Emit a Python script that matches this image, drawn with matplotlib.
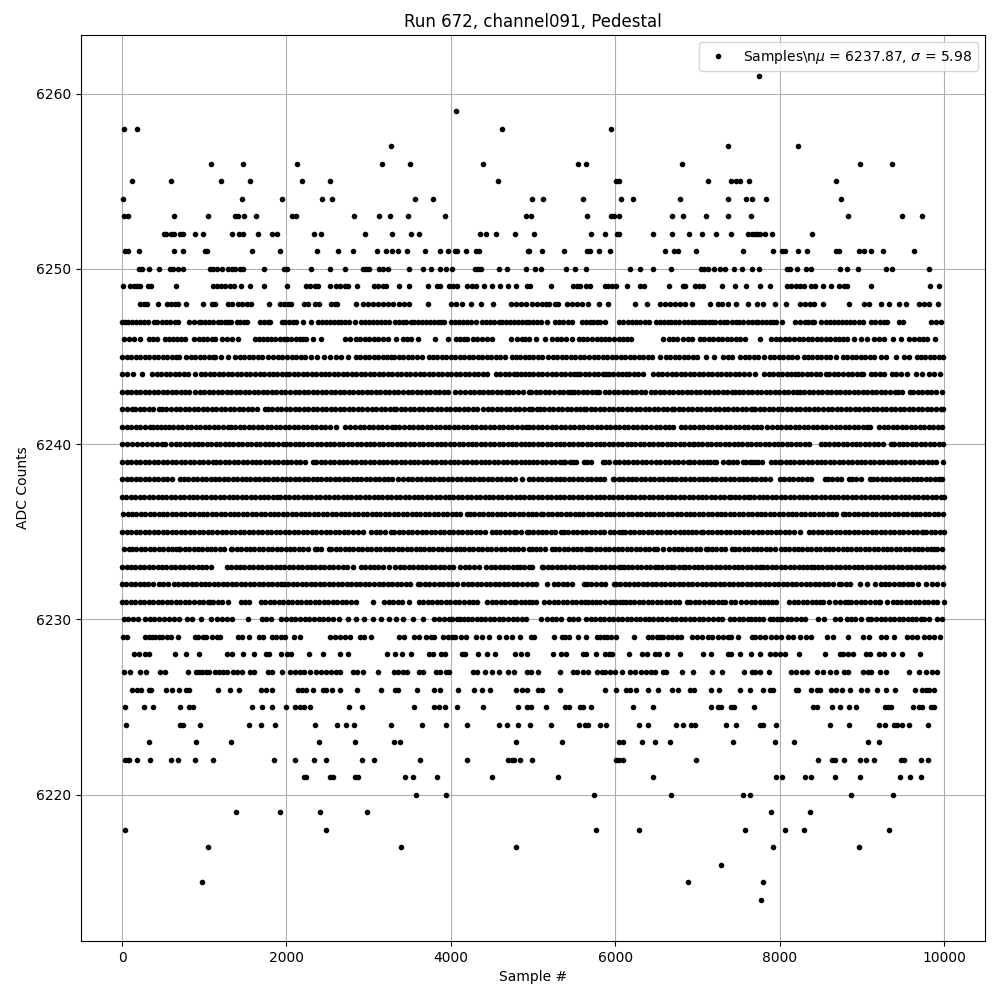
import matplotlib
matplotlib.use("Agg")
import matplotlib.pyplot as plt

# sample numbers, one list per ADC level
row_6214 = [7778]
row_6215 = [978, 6881, 7802]
row_6216 = [7281]
row_6217 = [1050, 3390, 4796, 7923, 8966]
row_6218 = [32, 2481, 5766, 6287, 7584, 8069, 8299, 9329]
row_6219 = [1390, 1923, 2408, 2977, 7899, 8372]
row_6220 = [3571, 3947, 5742, 6675, 7560, 7645, 8869, 9378]
row_6221 = [2214, 2242, 2525, 2566, 2828, 2869, 3438, 3535, 3826, 4505, 5305, 6457, 7960, 8033, 8311, 8376, 8675, 8978, 9463, 9584, 9717]
row_6222 = [40, 69, 89, 178, 335, 590, 675, 881, 1111, 1850, 2105, 2335, 2481, 2917, 3062, 3620, 4202, 4699, 4739, 4772, 4844,
            4990, 6008, 6041, 6093, 6978, 8469, 8639, 8675, 8784, 8978, 9055, 9148, 9475, 9515, 9717, 9802]
row_6223 = [323, 897, 1329, 2396, 2832, 3313, 3377, 4796, 5354, 6049, 6089, 6324, 6481, 6663, 7427, 7948, 8178, 9075, 9208]
row_6224 = [48, 707, 747, 953, 1547, 1693, 1862, 2347, 2614, 2727, 2824, 3268, 3644, 3947, 4202, 4589, 4686, 4820,
            4958, 5221, 5560, 5637, 5669, 5819, 5887, 6287, 6396, 6736, 6820, 6917, 6970, 7342, 7475, 7766, 7798, 7960,
            8618, 8845, 9208, 9281, 9394, 9434, 9491, 9576, 9802]
row_6225 = [32, 263, 372, 699, 820, 860, 1576, 1705, 1826, 2000, 2105, 2162, 2210, 2287, 2759, 2917, 3547, 3798, 3850, 3923,
            4080, 4396, 4812, 4929, 4970, 5160, 5386, 5435, 5568, 5609, 5705, 6215, 6457, 7160, 7253, 7285, 7414, 7447, 7693,
            8408, 8457, 8639, 8735, 8845, 8929, 9281, 9321, 9354, 9624, 9697, 9737, 9838, 9879]
row_6226 = [121, 182, 230, 323, 351, 529, 602, 687, 780, 816, 1172, 1317, 1426, 1693, 1757, 1818, 2141, 2190, 2242, 2323, 2444,
            2485, 2553, 2650, 2856, 3147, 3325, 3357, 3584, 3790, 3874, 4093, 4287, 4383, 4472, 4796, 4860, 4929,
            5063, 5112, 5330, 5875, 6004, 6130, 6182, 6251, 6396, 6518, 6687, 6760, 6905, 6958, 7160, 7257, 7523, 7645, 7802,
            7879, 7919, 8194, 8222, 8384, 8457, 8489, 8626, 8687, 8756, 8857, 8990, 9063, 9180, 9293, 9402, 9644, 9737, 9778, 9818, 9879]
row_6227 = [20, 93, 214, 287, 457, 517, 796, 897, 937, 978, 1018, 1059, 1131, 1184, 1232, 1281, 1345, 1394, 1454, 1555, 1608,
            1778, 1818, 1947, 2040, 2101, 2162, 2210, 2291, 2355, 2424, 2485, 2545, 2606, 2654, 2808, 2856, 2937, 3111, 3313,
            3353, 3414, 3466, 3608, 3656, 3818, 3866, 3939, 3979, 4270, 4323, 4420, 4505, 4590, 4699, 4772, 4929, 4970, 5063,
            5330, 5483, 5536, 5604, 5669, 5778, 5839, 5871, 5940, 6000, 6081, 6182, 6235, 6316, 6372, 6437, 6485, 6582, 6614,
            6808, 6950, 7176, 7305, 7572, 7665, 7697, 7758, 7871, 8142, 8194, 8275, 8336, 8457, 8525, 8618, 8687, 8780, 8836,
            9010, 9071, 9111, 9224, 9293, 9576, 9693, 9778, 9859, 9911]
row_6228 = [141, 202, 283, 323, 638, 772, 933, 1273, 1341, 1467, 1608, 1745, 1786, 1939, 2008, 2056, 2275, 2444, 2646, 2747, 3220,
            3317, 3402, 3511, 3737, 3777, 3878, 3923, 4141, 4173, 4335, 4444, 4541, 4783, 4856, 4929, 5245, 5346, 5402, 5604,
            5645, 5770, 5871, 5920, 5960, 6166, 6324, 6384, 6485, 6534, 6635, 6784, 7063, 7160, 7374, 7414, 7523, 7653, 7766,
            7887, 7948, 8008, 8061, 8230, 8554, 8735, 8768, 8828, 8893, 9051, 9095, 9212, 9265, 9378, 9487, 9705]
row_6229 = [8, 61, 283, 323, 364, 404, 444, 485, 545, 594, 675, 881, 929, 990, 1022, 1099, 1151, 1192, 1414, 1454, 1547, 1660,
            1717, 1818, 1871, 1939, 1980, 2097, 2162, 2533, 2586, 2646, 2707, 2768, 2889, 2949, 3026, 3373, 3434, 3555, 3616,
            3697, 3757, 3798, 3899, 3960, 4020, 4052, 4121, 4181, 4303, 4383, 4464, 4585, 4666, 4747, 4836, 4970, 5011, 5253,
            5354, 5386, 5435, 5548, 5645, 5778, 5819, 5859, 5899, 5952, 6008, 6227, 6404, 6445, 6505, 6546, 6586, 6647, 6687,
            6748, 6800, 6930, 6990, 7051, 7132, 7180, 7245, 7313, 7374, 7414, 7499, 7665, 7705, 7758, 7818, 7899, 7960, 8020,
            8101, 8162, 8243, 8323, 8384, 8578, 8651, 8832, 9010, 9091, 9232, 9293, 9394, 9556, 9616, 9677, 9758, 9818, 9879, 9952]
row_6230 = [20, 75, 130, 190, 283, 335, 390, 450, 510, 565, 630, 687, 788, 852, 962, 1083, 1160, 1220, 1280, 1333, 1527, 1697, 1750,
            1810, 1939, 1990, 2050, 2105, 2165, 2220, 2280, 2335, 2395, 2450, 2510, 2570, 2640, 2747, 2840, 2949, 3050, 3151, 3252, 3333,
            3414, 3535, 3656, 3794, 3850, 3915, 3980, 4020, 4070, 4110, 4160, 4205, 4260, 4315, 4370, 4420, 4475, 4530, 4585, 4640,
            4700, 4755, 4810, 4865, 4909, 5099, 5172, 5230, 5285, 5340, 5435, 5490, 5545, 5645, 5700, 5755, 5810, 5865, 5920, 5975,
            6030, 6085, 6140, 6195, 6250, 6305, 6360, 6415, 6465, 6520, 6575, 6630, 6685, 6740, 6795, 6850, 6905, 6960, 7015, 7070,
            7128, 7190, 7245, 7300, 7395, 7450, 7500, 7560, 7615, 7650, 7697, 7747, 7800, 7880, 7920, 7970, 8000, 8032, 8090, 8140,
            8200, 8260, 8311, 8473, 8545, 8675, 8740, 8815, 8865, 8920, 8990, 9071, 9110, 9170, 9230, 9285, 9340, 9395, 9450, 9505,
            9560, 9610, 9665, 9720, 9760, 9818, 9911, 9978]
row_6231 = [0, 50, 105, 160, 215, 270, 325, 380, 435, 490, 545, 600, 655, 710, 765, 820, 875, 930, 985, 1040, 1071, 1111, 1165, 1220,
            1293, 1442, 1490, 1547, 1685, 1740, 1795, 1850, 1905, 1960, 2015, 2070, 2125, 2180, 2235, 2290, 2345, 2400, 2455, 2510, 2565,
            2620, 2675, 2730, 2790, 2850, 3050, 3190, 3245, 3300, 3355, 3410, 3496, 3610, 3665, 3720, 3775, 3830, 3885, 3940, 3995,
            4050, 4105, 4160, 4215, 4270, 4324, 4444, 4497, 4550, 4605, 4660, 4715, 4770, 4788, 4848, 4900, 4949, 4990, 5039,
            5139, 5194, 5249, 5304, 5359, 5414, 5469, 5524, 5579, 5629, 5669, 5720, 5770, 5820, 5870, 5940, 5972, 6010, 6060, 6100,
            6134, 6174, 6230, 6285, 6340, 6395, 6450, 6505, 6560, 6615, 6670, 6725, 6780, 6873, 6915, 6970, 7025, 7080, 7135, 7190,
            7245, 7300, 7334, 7404, 7460, 7536, 7596, 7650, 7705, 7760, 7810, 7860, 7910, 7960, 8113, 8170, 8225, 8280, 8335, 8390,
            8445, 8495, 8525, 8606, 8675, 8730, 8800, 8830, 8870, 8929, 8990, 9045, 9100, 9155, 9210, 9225, 9305, 9374, 9425,
            9480, 9535, 9590, 9645, 9700, 9755, 9810, 9865, 9920, 9999]
row_6232 = [0, 50, 105, 160, 214, 265, 320, 375, 445, 500, 555, 630, 683, 738, 795, 850, 905, 960, 1010, 1062, 1115, 1170, 1225, 1280, 1335,
            1390, 1445, 1500, 1555, 1610, 1665, 1720, 1778, 1830, 1879, 1939, 1967, 2020, 2075, 2130, 2185, 2240, 2295, 2350, 2405,
            2460, 2515, 2570, 2625, 2680, 2735, 2790, 2845, 2900, 2955, 3010, 3065, 3120, 3175, 3230, 3285, 3340, 3395, 3450, 3505,
            3596, 3630, 3685, 3740, 3795, 3850, 3905, 3960, 4015, 4070, 4150, 4205, 4260, 4315, 4370, 4425, 4480, 4535, 4590, 4645,
            4700, 4755, 4810, 4865, 4929, 4982, 5040, 5172, 5253, 5308, 5363, 5418, 5473, 5617, 5657, 5701, 5770, 5821, 5880, 5980,
            6009, 6060, 6115, 6170, 6225, 6280, 6335, 6390, 6445, 6500, 6555, 6610, 6665, 6720, 6775, 6830, 6885, 6940, 6995, 7050,
            7105, 7160, 7215, 7270, 7325, 7380, 7435, 7490, 7545, 7600, 7655, 7710, 7765, 7820, 7875, 7930, 7985, 8040, 8095, 8150,
            8205, 8260, 8315, 8370, 8425, 8480, 8535, 8590, 8645, 8728, 8748, 8808, 8858, 8982, 9063, 9162, 9232, 9282, 9337, 9392,
            9447, 9502, 9557, 9612, 9685, 9778, 9859, 9914, 9992]
row_6233 = [0, 54, 108, 162, 216, 270, 324, 378, 432, 486, 540, 594, 648, 702, 756, 810, 864, 918, 972, 1026, 1082, 1273, 1327,
            1381, 1435, 1489, 1543, 1597, 1651, 1705, 1759, 1813, 1867, 1921, 1975, 2029, 2083, 2137, 2191, 2245, 2299, 2353, 2407,
            2461, 2515, 2569, 2623, 2682, 2735, 2808, 2903, 2957, 3011, 3065, 3119, 3173, 3252, 3325, 3379, 3433, 3487, 3541,
            3595, 3649, 3703, 3757, 3811, 3865, 3919, 3973, 4027, 4109, 4170, 4224, 4278, 4340, 4430, 4484, 4538, 4592, 4646, 4700,
            4755, 4809, 4840, 4894, 4949, 4985, 5104, 5124, 5178, 5232, 5286, 5340, 5394, 5448, 5502, 5556, 5610, 5664, 5718, 5772,
            5826, 5880, 5934, 5988, 6042, 6073, 6101, 6155, 6209, 6263, 6317, 6371, 6425, 6485, 6519, 6573, 6627, 6679, 6720, 6776,
            6820, 6849, 6899, 6953, 7007, 7061, 7115, 7169, 7223, 7277, 7331, 7385, 7439, 7493, 7547, 7601, 7655, 7709, 7763, 7798,
            7852, 7906, 7960, 8014, 8068, 8122, 8176, 8230, 8284, 8338, 8376, 8413, 8467, 8521, 8575, 8629, 8683, 8737, 8791, 8845,
            8899, 8953, 9007, 9061, 9115, 9169, 9223, 9277, 9331, 9385, 9439, 9493, 9547, 9601, 9655, 9709, 9763, 9817, 9871, 9925, 9992]
row_6234 = [28, 81, 121, 175, 229, 283, 337, 391, 445, 499, 553, 607, 661, 687, 707, 761, 815, 869, 923, 977, 1031, 1085, 1131, 1192, 1242,
            1321, 1341, 1395, 1449, 1503, 1557, 1611, 1665, 1719, 1773, 1827, 1881, 1935, 1989, 2043, 2097, 2151, 2205, 2259, 2343,
            2371, 2425, 2517, 2545, 2599, 2653, 2707, 2761, 2815, 2869, 2923, 2977, 3031, 3085, 3139, 3193, 3247, 3301, 3355, 3409,
            3463, 3517, 3571, 3625, 3679, 3733, 3787, 3841, 3895, 3949, 4003, 4057, 4111, 4165, 4219, 4273, 4327, 4381, 4435, 4489, 4545,
            4606, 4660, 4714, 4768, 4822, 4876, 4949, 4982, 5036, 5090, 5144, 5233, 5265, 5319, 5373, 5427, 5481, 5535, 5589, 5643, 5677,
            5710, 5764, 5818, 5872, 5926, 5980, 6034, 6088, 6142, 6196, 6250, 6304, 6358, 6412, 6466, 6509, 6586, 6655, 6709, 6763, 6817,
            6871, 6925, 6979, 7033, 7099, 7123, 7177, 7231, 7285, 7339, 7422, 7455, 7509, 7563, 7617, 7671, 7725, 7779, 7833, 7887, 7941,
            8020, 8061, 8115, 8169, 8223, 8277, 8331, 8385, 8439, 8493, 8547, 8601, 8655, 8709, 8768, 8820, 8874, 8928, 8982, 9036, 9090,
            9144, 9198, 9252, 9306, 9360, 9414, 9468, 9522, 9576, 9630, 9684, 9738, 9792, 9846, 9879, 9919, 9980]
row_6235 = [0, 55, 110, 165, 220, 275, 330, 385, 440, 495, 550, 605, 660, 715, 770, 825, 880, 935, 990, 1045, 1100, 1155, 1210, 1265,
            1320, 1375, 1430, 1485, 1540, 1595, 1650, 1705, 1760, 1815, 1870, 1925, 1980, 2035, 2090, 2145, 2200, 2255, 2310, 2365,
            2420, 2475, 2530, 2585, 2640, 2695, 2750, 2805, 2868, 2937, 3030, 3085, 3140, 3200, 3272, 3313, 3368, 3423, 3478, 3533,
            3588, 3643, 3698, 3753, 3808, 3863, 3918, 3973, 4028, 4083, 4138, 4193, 4248, 4303, 4358, 4413, 4505, 4545, 4600, 4655,
            4710, 4765, 4787, 4848, 4929, 4950, 5004, 5060, 5104, 5160, 5215, 5270, 5346, 5374, 5429, 5484, 5539, 5594, 5649, 5704,
            5759, 5814, 5869, 5940, 5980, 6040, 6081, 6122, 6177, 6232, 6287, 6342, 6397, 6452, 6507, 6562, 6617, 6672, 6727, 6782, 6837,
            6889, 6930, 6985, 7043, 7071, 7126, 7181, 7236, 7291, 7346, 7401, 7456, 7511, 7566, 7621, 7676, 7731, 7786, 7841, 7896,
            7951, 8006, 8061, 8116, 8171, 8243, 8352, 8407, 8462, 8517, 8572, 8627, 8682, 8737, 8792, 8847, 8902, 8957, 9012, 9067,
            9122, 9177, 9232, 9287, 9342, 9397, 9452, 9507, 9562, 9617, 9672, 9727, 9750, 9786, 9841, 9896, 9951, 9999]
row_6236 = [12, 66, 120, 174, 228, 282, 336, 390, 444, 498, 552, 606, 660, 714, 768, 822, 876, 930, 984, 1038, 1092, 1146, 1200, 1254,
            1308, 1362, 1416, 1470, 1524, 1578, 1632, 1686, 1740, 1794, 1848, 1902, 1956, 2010, 2064, 2118, 2172, 2226, 2280, 2334,
            2388, 2442, 2496, 2550, 2604, 2658, 2712, 2766, 2820, 2874, 2928, 2982, 3036, 3090, 3144, 3198, 3252, 3306, 3360, 3414,
            3468, 3522, 3576, 3630, 3684, 3738, 3792, 3846, 3900, 3954, 4008, 4062, 4116, 4202, 4232, 4286, 4340, 4394, 4448, 4502,
            4556, 4610, 4664, 4718, 4772, 4826, 4880, 4934, 4988, 5042, 5093, 5127, 5181, 5235, 5289, 5343, 5397, 5451, 5505, 5559,
            5613, 5667, 5721, 5775, 5829, 5883, 5937, 5991, 6045, 6099, 6153, 6207, 6261, 6315, 6369, 6423, 6477, 6531, 6585, 6639,
            6693, 6747, 6801, 6855, 6909, 6963, 7017, 7071, 7125, 7179, 7233, 7287, 7341, 7395, 7449, 7503, 7557, 7611, 7665, 7719,
            7773, 7827, 7881, 7935, 7989, 8043, 8097, 8151, 8205, 8259, 8313, 8367, 8421, 8475, 8529, 8583, 8637, 8691, 8768, 8796,
            8850, 8904, 8958, 9012, 9066, 9120, 9174, 9228, 9282, 9336, 9390, 9444, 9498, 9552, 9606, 9660, 9714, 9768, 9822, 9876, 9930, 9992]
row_6237 = [0, 53, 107, 161, 215, 269, 323, 377, 431, 485, 539, 593, 647, 701, 755, 809, 863, 917, 971, 1025, 1079, 1133, 1187, 1241,
            1295, 1349, 1403, 1457, 1511, 1565, 1619, 1673, 1727, 1781, 1835, 1885, 1927, 1980, 2034, 2088, 2142, 2196, 2250, 2304,
            2358, 2412, 2466, 2520, 2574, 2628, 2682, 2736, 2790, 2844, 2898, 2952, 3006, 3060, 3114, 3168, 3222, 3276, 3330, 3384,
            3438, 3492, 3546, 3600, 3654, 3708, 3762, 3816, 3870, 3924, 3978, 4032, 4086, 4140, 4194, 4248, 4302, 4356, 4410, 4464,
            4518, 4572, 4626, 4680, 4734, 4788, 4842, 4896, 4949, 5004, 5058, 5112, 5166, 5220, 5274, 5328, 5382, 5436, 5490, 5544,
            5598, 5652, 5706, 5760, 5814, 5868, 5922, 5976, 6030, 6084, 6138, 6192, 6246, 6300, 6354, 6408, 6462, 6516, 6570, 6624,
            6678, 6732, 6786, 6840, 6894, 6948, 7002, 7056, 7110, 7164, 7218, 7272, 7326, 7382, 7406, 7456, 7510, 7564, 7610, 7636,
            7690, 7744, 7798, 7852, 7906, 7960, 8014, 8068, 8122, 8176, 8230, 8284, 8338, 8392, 8446, 8500, 8554, 8608, 8662, 8716,
            8770, 8824, 8878, 8932, 8986, 9040, 9094, 9148, 9202, 9256, 9310, 9364, 9418, 9472, 9526, 9580, 9634, 9688, 9742, 9796, 9850, 9904, 9958, 9999]
row_6238 = [0, 55, 110, 165, 220, 275, 330, 385, 440, 495, 550, 606, 699, 752, 806, 860, 914, 968, 1022, 1076, 1130, 1184, 1238, 1292,
            1346, 1400, 1454, 1508, 1562, 1616, 1670, 1724, 1778, 1832, 1886, 1940, 1994, 2048, 2102, 2156, 2210, 2264, 2318, 2372,
            2426, 2480, 2534, 2588, 2642, 2696, 2750, 2804, 2858, 2912, 2966, 3020, 3074, 3128, 3182, 3236, 3290, 3353, 3423, 3477,
            3531, 3585, 3639, 3693, 3747, 3801, 3855, 3909, 3963, 4017, 4071, 4125, 4179, 4233, 4287, 4341, 4395, 4449, 4503, 4557,
            4614, 4668, 4722, 4776, 4868, 4950, 5004, 5058, 5112, 5166, 5220, 5274, 5328, 5382, 5436, 5490, 5544, 5598, 5652, 5706,
            5760, 5814, 5868, 5968, 5988, 6042, 6096, 6150, 6204, 6258, 6312, 6366, 6420, 6474, 6528, 6582, 6636, 6690, 6744, 6798,
            6852, 6906, 6960, 7014, 7068, 7122, 7176, 7230, 7284, 7338, 7392, 7446, 7500, 7554, 7608, 7662, 7716, 7770, 7824, 7880,
            8008, 8058, 8112, 8166, 8220, 8274, 8328, 8382, 8550, 8586, 8640, 8694, 8748, 8850, 8877, 8931, 8985, 9104, 9132, 9186,
            9240, 9294, 9348, 9402, 9456, 9510, 9564, 9618, 9672, 9726, 9780, 9834, 9888, 9942, 9980]
row_6239 = [0, 55, 110, 165, 220, 275, 330, 385, 440, 495, 550, 605, 660, 715, 770, 825, 880, 935, 990, 1045, 1103, 1143, 1197, 1251, 1305, 1359,
            1413, 1467, 1521, 1575, 1629, 1683, 1737, 1791, 1845, 1899, 1953, 2007, 2061, 2115, 2169, 2223, 2323, 2364, 2418, 2472,
            2526, 2580, 2634, 2688, 2742, 2796, 2850, 2904, 2958, 3012, 3066, 3120, 3174, 3228, 3282, 3336, 3390, 3444, 3498, 3552,
            3606, 3660, 3714, 3768, 3822, 3876, 3930, 3984, 4038, 4092, 4146, 4200, 4254, 4308, 4362, 4416, 4470, 4524, 4578, 4632,
            4686, 4740, 4794, 4848, 4902, 4949, 5000, 5054, 5108, 5160, 5215, 5270, 5325, 5362, 5386, 5455, 5483, 5525, 5617, 5660,
            5704, 5850, 5875, 5920, 6000, 6050, 6105, 6160, 6215, 6270, 6325, 6380, 6435, 6490, 6545, 6600, 6655, 6710, 6765,
            6820, 6889, 6910, 6960, 7014, 7068, 7111, 7152, 7196, 7225, 7310, 7370, 7390, 7430, 7480, 7558, 7590, 7640, 7665, 7700,
            7737, 7790, 7890, 7940, 7995, 8012, 8072, 8126, 8180, 8234, 8288, 8342, 8396, 8450, 8504, 8558, 8612,
            8666, 8720, 8774, 8828, 8882, 8936, 8990, 9044, 9098, 9152, 9206, 9260, 9314, 9368, 9422, 9476, 9530, 9584, 9638, 9692, 9746, 9800, 9854, 9908, 9992]
row_6240 = [0, 60, 121, 182, 242, 303, 364, 424, 485, 525, 593, 652, 707, 761, 815, 869, 923, 977, 1031, 1085, 1139, 1193, 1247, 1301,
            1355, 1409, 1463, 1517, 1571, 1625, 1679, 1733, 1787, 1841, 1895, 1960, 1990, 2044, 2098, 2152, 2206, 2260, 2314, 2368,
            2422, 2476, 2530, 2584, 2638, 2692, 2746, 2800, 2854, 2908, 2962, 3016, 3070, 3124, 3178, 3232, 3286, 3340, 3394, 3448,
            3502, 3556, 3610, 3664, 3718, 3772, 3826, 3880, 3934, 3988, 4042, 4096, 4150, 4204, 4258, 4312, 4366, 4420, 4474, 4528,
            4582, 4636, 4690, 4744, 4798, 4852, 4906, 4949, 5004, 5058, 5112, 5166, 5220, 5274, 5328, 5382, 5436, 5490, 5544, 5598,
            5652, 5706, 5760, 5814, 5868, 5922, 5976, 6030, 6084, 6138, 6192, 6246, 6300, 6354, 6408, 6462, 6516, 6570, 6624, 6678,
            6732, 6786, 6840, 6894, 6948, 6958, 7005, 7050, 7116, 7170, 7224, 7278, 7332, 7386, 7440, 7494, 7548, 7602, 7656, 7710,
            7764, 7818, 7872, 7926, 7980, 8034, 8088, 8142, 8196, 8250, 8304, 8358, 8500, 8550, 8600, 8660, 8714, 8768, 8822,
            8876, 8930, 8984, 9038, 9092, 9146, 9200, 9254, 9358, 9394, 9448, 9502, 9556, 9610, 9664, 9718, 9772, 9826, 9880, 9934, 9990]
row_6241 = [0, 55, 110, 165, 220, 275, 343, 376, 420, 470, 525, 566, 620, 675, 730, 785, 840, 895, 950, 1005, 1060, 1115, 1170, 1225, 1293,
            1321, 1375, 1430, 1485, 1540, 1595, 1650, 1705, 1760, 1815, 1870, 1925, 1980, 2032, 2087, 2142, 2197, 2252, 2307, 2362,
            2417, 2472, 2527, 2606, 2715, 2770, 2835, 2890, 2945, 3000, 3055, 3110, 3165, 3220, 3285, 3320, 3375, 3430, 3485,
            3540, 3595, 3650, 3705, 3760, 3815, 3870, 3925, 3980, 4035, 4090, 4145, 4200, 4255, 4310, 4365, 4420, 4475, 4530, 4585,
            4640, 4695, 4750, 4805, 4860, 4915, 4950, 5005, 5060, 5115, 5170, 5225, 5280, 5335, 5390, 5445, 5500, 5555, 5610, 5665,
            5720, 5775, 5830, 5885, 5940, 5995, 6050, 6105, 6160, 6215, 6270, 6325, 6380, 6435, 6490, 6545, 6600, 6655, 6700, 6800,
            6850, 6905, 6960, 7015, 7070, 7125, 7180, 7235, 7290, 7345, 7400, 7455, 7510, 7565, 7620, 7675, 7730, 7778, 7850, 7910,
            7965, 8020, 8075, 8130, 8185, 8240, 8295, 8350, 8405, 8460, 8515, 8570, 8625, 8680, 8735, 8790, 8845, 8900, 8955, 9010,
            9065, 9099, 9210, 9265, 9320, 9375, 9430, 9485, 9540, 9595, 9650, 9705, 9760, 9815, 9870, 9925, 9980]
row_6242 = [0, 60, 121, 162, 217, 272, 327, 382, 444, 485, 540, 595, 650, 705, 760, 815, 870, 925, 980, 1035, 1090, 1145, 1200, 1255,
            1310, 1365, 1420, 1475, 1530, 1585, 1640, 1737, 1770, 1825, 1880, 1935, 1990, 2045, 2100, 2155, 2210, 2265, 2320, 2375,
            2430, 2485, 2540, 2595, 2650, 2705, 2760, 2815, 2870, 2925, 2980, 3035, 3090, 3145, 3200, 3255, 3313, 3333, 3388, 3443,
            3498, 3553, 3608, 3663, 3718, 3773, 3828, 3883, 3938, 3993, 4048, 4103, 4158, 4213, 4268, 4315, 4392, 4447, 4502, 4557,
            4612, 4667, 4722, 4777, 4832, 4887, 4949, 4985, 5051, 5079, 5134, 5189, 5244, 5299, 5354, 5409, 5464, 5519, 5574, 5617,
            5645, 5700, 5755, 5810, 5865, 5920, 5975, 6030, 6085, 6140, 6195, 6250, 6305, 6360, 6415, 6470, 6525, 6580, 6635, 6687,
            6715, 6770, 6825, 6880, 6935, 6990, 7045, 7100, 7155, 7210, 7265, 7320, 7375, 7430, 7485, 7540, 7595, 7650, 7677, 7705,
            7758, 7813, 7868, 7923, 7978, 8033, 8088, 8143, 8198, 8253, 8308, 8363, 8418, 8473, 8528, 8583, 8638, 8693, 8748, 8803,
            8858, 8913, 8968, 9023, 9078, 9133, 9188, 9243, 9298, 9353, 9408, 9463, 9518, 9573, 9628, 9683, 9738, 9793, 9848, 9903, 9958, 9992]
row_6243 = [0, 55, 110, 165, 220, 275, 330, 385, 440, 495, 550, 605, 660, 715, 768, 808, 889, 949, 998, 1053, 1108, 1163, 1218, 1273,
            1328, 1383, 1438, 1493, 1548, 1603, 1658, 1713, 1768, 1823, 1878, 1933, 1988, 2043, 2098, 2153, 2208, 2263, 2318, 2373,
            2428, 2483, 2538, 2593, 2648, 2703, 2758, 2813, 2868, 2923, 2978, 3033, 3088, 3143, 3198, 3253, 3308, 3363, 3418, 3473,
            3528, 3583, 3638, 3693, 3748, 3803, 3858, 3913, 3968, 4052, 4109, 4173, 4228, 4283, 4338, 4393, 4448, 4503, 4558, 4613,
            4674, 4707, 4762, 4817, 4872, 4949, 4980, 5035, 5090, 5145, 5200, 5255, 5310, 5365, 5420, 5467, 5495, 5550, 5605, 5660,
            5715, 5770, 5806, 5871, 5926, 5981, 6036, 6091, 6146, 6201, 6256, 6311, 6364, 6433, 6485, 6540, 6595, 6650, 6705, 6760,
            6815, 6870, 6925, 6980, 7035, 7090, 7145, 7200, 7255, 7310, 7365, 7420, 7463, 7503, 7558, 7613, 7668, 7723, 7778, 7833,
            7888, 7943, 7998, 8053, 8108, 8163, 8214, 8243, 8298, 8353, 8408, 8463, 8518, 8573, 8628, 8683, 8738, 8793, 8848, 8903,
            8958, 9013, 9068, 9123, 9178, 9233, 9288, 9343, 9398, 9442, 9495, 9584, 9624, 9679, 9734, 9789, 9844, 9899, 9980]
row_6244 = [0, 61, 129, 238, 364, 419, 474, 529, 584, 639, 694, 749, 804, 881, 957, 1012, 1067, 1122, 1177, 1232, 1287, 1342, 1397,
            1452, 1507, 1562, 1617, 1672, 1727, 1782, 1838, 1879, 1945, 1992, 2032, 2087, 2142, 2197, 2252, 2307, 2362, 2416, 2464, 2519,
            2574, 2629, 2684, 2739, 2794, 2849, 2904, 2959, 3014, 3069, 3124, 3179, 3234, 3289, 3344, 3399, 3454, 3509, 3564, 3619,
            3674, 3729, 3784, 3839, 3894, 3949, 4004, 4059, 4114, 4169, 4224, 4279, 4334, 4389, 4444, 4545, 4598, 4653, 4708, 4763,
            4808, 4848, 4903, 4949, 5005, 5060, 5115, 5170, 5225, 5280, 5335, 5390, 5445, 5500, 5536, 5576, 5631, 5686, 5741, 5796,
            5851, 5887, 5920, 5975, 6030, 6085, 6130, 6170, 6225, 6280, 6336, 6465, 6520, 6575, 6630, 6685, 6740, 6795, 6850, 6905,
            6960, 7015, 7070, 7125, 7180, 7235, 7290, 7345, 7400, 7455, 7510, 7565, 7624, 7705, 7810, 7865, 7920, 7975, 8030, 8085,
            8140, 8182, 8222, 8277, 8332, 8387, 8442, 8497, 8566, 8606, 8661, 8716, 8771, 8826, 8881, 8936, 8991, 9018, 9111, 9166,
            9221, 9265, 9362, 9417, 9472, 9548, 9657, 9737, 9818, 9878, 9952]
row_6245 = [0, 55, 110, 165, 220, 275, 330, 385, 440, 495, 550, 605, 660, 687, 780, 835, 890, 945, 1000, 1055, 1110, 1131, 1200, 1293,
            1374, 1429, 1484, 1539, 1594, 1649, 1704, 1778, 1838, 1893, 1948, 2003, 2072, 2121, 2176, 2230, 2303, 2371, 2452, 2530,
            2598, 2666, 2747, 2848, 2897, 2952, 3007, 3062, 3117, 3172, 3227, 3272, 3313, 3368, 3423, 3478, 3533, 3588, 3643, 3737,
            3777, 3832, 3887, 3942, 3997, 4052, 4107, 4162, 4217, 4272, 4327, 4382, 4437, 4492, 4545, 4598, 4653, 4747, 4787, 4842,
            4897, 4949, 5004, 5059, 5114, 5184, 5241, 5296, 5351, 5406, 5461, 5516, 5571, 5626, 5681, 5736, 5791, 5846, 5901, 5956,
            6011, 6066, 6121, 6176, 6231, 6286, 6341, 6396, 6451, 6546, 6614, 6669, 6724, 6779, 6834, 6889, 6944, 6999, 7099, 7204,
            7313, 7368, 7423, 7515, 7576, 7631, 7686, 7741, 7810, 7879, 7934, 7989, 8044, 8099, 8154, 8209, 8295, 8344, 8399, 8454,
            8509, 8564, 8619, 8687, 8768, 8823, 8878, 8933, 8988, 9043, 9098, 9153, 9232, 9293, 9414, 9515, 9570, 9677, 9717, 9772, 9827, 9882, 9937, 9988]
row_6246 = [20, 81, 141, 222, 323, 370, 424, 525, 566, 618, 665, 715, 770, 873, 930, 985, 1030, 1091, 1131, 1212, 1272, 1333, 1414,
            1616, 1660, 1720, 1760, 1815, 1860, 1919, 1965, 2010, 2061, 2120, 2161, 2202, 2242, 2323, 2416, 2707, 2767, 2848, 2900,
            2950, 3000, 3060, 3110, 3170, 3232, 3333, 3414, 3465, 3520, 3596, 3810, 3971, 4060, 4110, 4160, 4202, 4270, 4320, 4380,
            4440, 4505, 4727, 4808, 4860, 4905, 4949, 5039, 5144, 5233, 5290, 5340, 5400, 5475, 5556, 5610, 5660, 5720, 5780, 5830,
            5880, 5920, 5980, 6040, 6090, 6140, 6194, 6586, 6650, 6700, 6748, 6829, 6880, 6938, 7031, 7085, 7140, 7190, 7250, 7300,
            7360, 7410, 7470, 7520, 7576, 7758, 7899, 7950, 8010, 8060, 8120, 8170, 8230, 8280, 8340, 8390, 8450, 8500, 8560, 8610,
            8670, 8720, 8770, 8820, 8909, 8990, 9063, 9152, 9212, 9273, 9374, 9475, 9576, 9636, 9697, 9750, 9798, 9887]
row_6247 = [0, 40, 75, 125, 170, 215, 265, 318, 384, 430, 480, 530, 585, 640, 680, 820, 870, 930, 965, 1012, 1060, 1110, 1168, 1200,
            1250, 1290, 1330, 1394, 1440, 1480, 1515, 1680, 1730, 1770, 1804, 1940, 1985, 2035, 2080, 2120, 2202, 2303, 2385, 2430,
            2480, 2530, 2575, 2625, 2665, 2710, 2765, 2828, 2910, 2960, 3010, 3055, 3105, 3150, 3200, 3250, 3315, 3365, 3415, 3460,
            3510, 3555, 3605, 3650, 3700, 3745, 3795, 3840, 3885, 3918, 4000, 4050, 4100, 4150, 4200, 4250, 4300, 4385, 4430, 4480,
            4530, 4580, 4625, 4675, 4720, 4770, 4815, 4865, 4910, 4950, 5000, 5050, 5100, 5172, 5265, 5315, 5370, 5420, 5475, 5590,
            5640, 5690, 5735, 5778, 5819, 5871, 6050, 6100, 6150, 6200, 6255, 6305, 6360, 6410, 6497, 6545, 6595, 6640, 6680, 6730,
            6780, 6835, 6888, 6930, 6975, 7020, 7050, 7091, 7140, 7180, 7212, 7273, 7320, 7365, 7415, 7465, 7510, 7556, 7616, 7665,
            7717, 7740, 7790, 7840, 7885, 7920, 7960, 8028, 8182, 8243, 8303, 8350, 8395, 8424, 8505, 8560, 8618, 8660, 8710, 8760,
            8810, 8860, 8910, 8960, 9010, 9111, 9160, 9220, 9273, 9305, 9455, 9507, 9840, 9900, 9960]
row_6248 = [222, 263, 303, 432, 545, 594, 642, 675, 780, 990, 1091, 1131, 1293, 1333, 1414, 1454, 1515, 1564, 1790, 1919, 1968, 2020,
            2061, 2210, 2263, 2343, 2396, 2545, 2586, 2614, 2840, 2929, 2990, 3050, 3111, 3172, 3232, 3293, 3374, 3434, 3495, 3717,
            4000, 4060, 4141, 4242, 4371, 4517, 4727, 4788, 4848, 4909, 4990, 5051, 5104, 5152, 5200, 5265, 5305, 5415, 5475, 5536,
            5596, 5669, 5806, 5912, 6243, 6384, 6546, 6606, 6667, 6728, 6788, 6849, 6930, 7148, 7253, 7301, 7366, 7475, 7620, 7730,
            7798, 7948, 8081, 8243, 8303, 8364, 8424, 8525, 8845, 9030, 9091, 9232, 9333, 9455, 9535, 9697, 9758, 9818, 9923]
row_6249 = [8, 101, 141, 182, 222, 311, 351, 659, 1111, 1151, 1200, 1252, 1313, 1362, 1447, 1559, 1729, 2008, 2242, 2283, 2343, 2384,
            2525, 2598, 2654, 2707, 2747, 2856, 3059, 3111, 3172, 3212, 3374, 3486, 3717, 3826, 3866, 3979, 4028, 4080, 4202, 4255,
            4303, 4404, 4497, 4602, 4699, 4788, 4929, 4958, 5221, 5483, 5536, 5576, 5645, 5697, 5871, 5912, 5960, 6008, 6142, 6303,
            6344, 6651, 6820, 6849, 6970, 7018, 7071, 7305, 7463, 7596, 7766, 7887, 8089, 8142, 8202, 8251, 8295, 8384, 8432, 8525,
            8626, 8727, 8780, 8820, 9111, 9826, 9935]
row_6250 = [210, 242, 323, 444, 586, 618, 675, 739, 1071, 1111, 1151, 1220, 1293, 1333, 1374, 1434, 1475, 1729, 1967, 2008, 2299, 2529,
            2711, 2937, 2969, 3002, 3131, 3171, 3232, 3487, 3656, 3764, 3874, 3939, 4020, 4295, 4327, 4367, 4590, 4686, 4917,
            5022, 5091, 5402, 5511, 5644, 6178, 6299, 6457, 6675, 7038, 7079, 7123, 7196, 7269, 7341, 7450, 7547, 7668, 7753,
            8093, 8121, 8214, 8323, 8376, 8735, 8820, 8953, 9293, 9365, 9814]
row_6251 = [40, 77, 202, 626, 747, 1014, 1030, 1584, 1923, 2371, 2626, 2808, 3099, 3208, 3280, 3353, 3462, 3680, 3862, 3971, 4052, 4080,
            4190, 4307, 4343, 4937, 4950, 5111, 5378, 5657, 5689, 5802, 5935, 6602, 6719, 6760, 6978, 7559, 7923, 8028, 8060, 8226,
            8335, 8687, 8719, 8965, 9030, 9111, 9256, 9632]
row_6252 = [505, 537, 598, 630, 699, 747, 893, 990, 1341, 1426, 1475, 1656, 1826, 1887, 2335, 2420, 2953, 3280, 3511, 3608, 4359, 4432,
            4553, 4783, 5014, 5705, 5875, 6020, 6048, 6457, 6687, 6893, 7050, 7220, 7414, 7620, 7668, 7697, 7729, 7757, 7826, 7911, 8396]
row_6253 = [20, 73, 626, 1050, 1374, 1414, 1487, 1632, 2068, 2117, 2820, 3123, 3256, 3474, 3923, 4917, 4970, 5657, 5947, 5980, 6048,
            6687, 6820, 7099, 7378, 7656, 8832, 9487, 9729]
row_6254 = [8, 1462, 1947, 2432, 2553, 3559, 3777, 4990, 5123, 5608, 6069, 6214, 6784, 7366, 7596, 7668, 7838, 8747]
row_6255 = [117, 590, 1208, 1559, 2190, 2529, 4577, 6008, 6040, 7123, 7414, 7475, 7515, 7632, 8687]
row_6256 = [1087, 1475, 2129, 3160, 3500, 4396, 5548, 5644, 6808, 8977, 9365]
row_6257 = [3272, 7366, 8226]
row_6258 = [20, 182, 4626, 5947]
row_6259 = [4068]
row_6261 = [7753]

# level to sample list
rows = {6214: row_6214, 6215: row_6215, 6216: row_6216, 6217: row_6217, 6218: row_6218, 6219: row_6219, 6220: row_6220,
        6221: row_6221, 6222: row_6222, 6223: row_6223, 6224: row_6224, 6225: row_6225, 6226: row_6226, 6227: row_6227,
        6228: row_6228, 6229: row_6229, 6230: row_6230, 6231: row_6231, 6232: row_6232, 6233: row_6233, 6234: row_6234,
        6235: row_6235, 6236: row_6236, 6237: row_6237, 6238: row_6238, 6239: row_6239, 6240: row_6240, 6241: row_6241,
        6242: row_6242, 6243: row_6243, 6244: row_6244, 6245: row_6245, 6246: row_6246, 6247: row_6247, 6248: row_6248,
        6249: row_6249, 6250: row_6250, 6251: row_6251, 6252: row_6252, 6253: row_6253, 6254: row_6254, 6255: row_6255,
        6256: row_6256, 6257: row_6257, 6258: row_6258, 6259: row_6259, 6261: row_6261}

x = []
y = []
for level, samples in rows.items():
    x += samples
    y += [level] * len(samples)

fig, ax = plt.subplots(figsize=(10, 10), dpi=100)
ax.plot(x, y, 'k.', label=r'Samples\n$\mu$ = 6237.87, $\sigma$ = 5.98')
ax.set_title('Run 672, channel091, Pedestal')
ax.set_xlabel('Sample #')
ax.set_ylabel('ADC Counts')
ax.grid(True)
ax.legend(loc='upper right')
fig.subplots_adjust(left=0.081, right=0.985, top=0.965, bottom=0.059)
fig.savefig('out.png')
